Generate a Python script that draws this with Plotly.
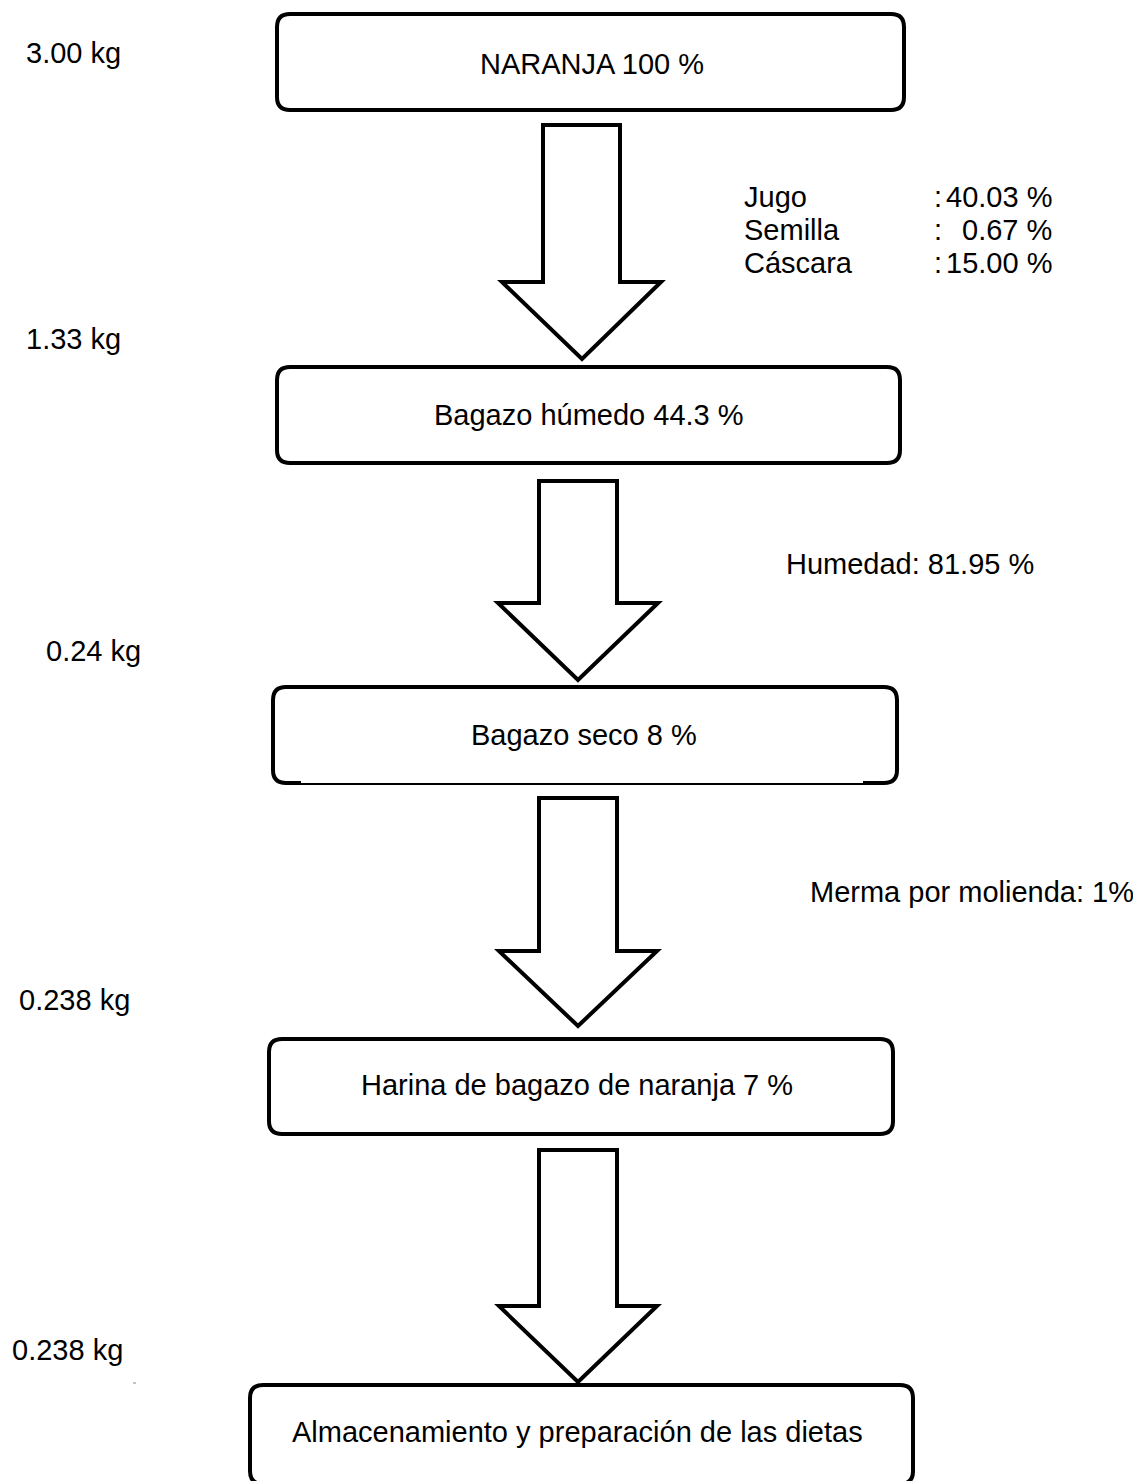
import plotly.graph_objects as go

# ---------------- data (text content) ----------------
step_labels = [
    "NARANJA 100 %",
    "Bagazo húmedo 44.3 %",
    "Bagazo seco 8 %",
    "Harina de bagazo de naranja 7 %",
    "Almacenamiento y preparación de las dietas",
]
mass_labels = ["3.00 kg", "1.33 kg", "0.24 kg", "0.238 kg", "0.238 kg"]
component_names = ["Jugo", "Semilla", "Cáscara"]
component_values = ["40.03 %", "0.67 %", "15.00 %"]
loss_notes = ["Humedad: 81.95 %", "Merma por molienda: 1%"]

# ---------------- layout geometry (pixels of the 1141x1481 page) ----------------
W, H = 1141, 1481
OFF = 8  # page body margin offset, compensated in the axis ranges
box_x0 = [277, 277, 273, 269, 250]
box_x1 = [904, 900, 897, 893, 913]
box_y0 = [14, 367, 687, 1039, 1385]
box_y1 = [110, 463, 783, 1134, 1484]
text_x = [592, 589, 584, 577, 577]
text_y = [64, 415, 735, 1085, 1432]

arrow_sx0 = [543, 539, 539, 539]
arrow_sx1 = [620, 617, 617, 617]
arrow_top = [125, 481, 798, 1150]
arrow_head = [282, 603, 951, 1306]
arrow_hx0 = [502, 498, 499, 499]
arrow_hx1 = [661, 658, 657, 657]
arrow_tipx = [582, 578, 578, 578]
arrow_tipy = [359, 680, 1026, 1382]

mass_x = [24, 24, 44, 17, 10]
mass_y = [53, 339, 651, 1000, 1350]

comp_x = 742
comp_colon_x = 932
comp_val_right = 1054
comp_y = [197, 230, 263]

note_x = [784, 808]
note_y = [564, 892]

FONT = "Liberation Sans, Arial, sans-serif"
FS = 29
LW = 4
R = 13

fig = go.Figure()

shapes = []


def rounded_path(x0, x1, y0, y1, r):
    return (f"M {x0+r},{y0} L {x1-r},{y0} Q {x1},{y0} {x1},{y0+r} "
            f"L {x1},{y1-r} Q {x1},{y1} {x1-r},{y1} L {x0+r},{y1} "
            f"Q {x0},{y1} {x0},{y1-r} L {x0},{y0+r} Q {x0},{y0} {x0+r},{y0} Z")


for i in range(len(step_labels)):
    x0, x1, y0, y1 = box_x0[i], box_x1[i], box_y0[i], box_y1[i]
    if i == 2:
        # box with a thinner middle segment on its bottom edge
        a, b = 301, 863
        p = (f"M {a},{y1} L {x0+R},{y1} Q {x0},{y1} {x0},{y1-R} "
             f"L {x0},{y0+R} Q {x0},{y0} {x0+R},{y0} L {x1-R},{y0} "
             f"Q {x1},{y0} {x1},{y0+R} L {x1},{y1-R} Q {x1},{y1} {x1-R},{y1} L {b},{y1}")
        shapes.append(dict(type="path", path=p, xref="x", yref="y",
                           line=dict(color="black", width=LW), fillcolor="rgba(0,0,0,0)",
                           layer="above"))
        shapes.append(dict(type="line", x0=a, x1=b, y0=y1 + 1, y1=y1 + 1, xref="x", yref="y",
                           line=dict(color="black", width=2), layer="above"))
    else:
        shapes.append(dict(type="path", path=rounded_path(x0, x1, y0, y1, R),
                           xref="x", yref="y", line=dict(color="black", width=LW),
                           fillcolor="white", layer="above"))

for i in range(len(arrow_top)):
    p = (f"M {arrow_sx0[i]},{arrow_top[i]} L {arrow_sx1[i]},{arrow_top[i]} "
         f"L {arrow_sx1[i]},{arrow_head[i]} L {arrow_hx1[i]},{arrow_head[i]} "
         f"L {arrow_tipx[i]},{arrow_tipy[i]} L {arrow_hx0[i]},{arrow_head[i]} "
         f"L {arrow_sx0[i]},{arrow_head[i]} Z")
    shapes.append(dict(type="path", path=p, xref="x", yref="y",
                       line=dict(color="black", width=LW), fillcolor="white", layer="above"))

# small stray mark near the last mass label
shapes.append(dict(type="line", x0=133, x1=136, y0=1383, y1=1383, xref="x", yref="y",
                   line=dict(color="#888888", width=1), layer="above"))

annotations = []
for i, t in enumerate(step_labels):
    annotations.append(dict(x=text_x[i], y=text_y[i], text=t, showarrow=False,
                            xanchor="center", yanchor="middle",
                            font=dict(family=FONT, size=FS, color="black")))
for i, t in enumerate(mass_labels):
    annotations.append(dict(x=mass_x[i], y=mass_y[i], text=t, showarrow=False,
                            xanchor="left", yanchor="middle",
                            font=dict(family=FONT, size=FS, color="black")))
for i, t in enumerate(component_names):
    annotations.append(dict(x=comp_x, y=comp_y[i], text=t, showarrow=False,
                            xanchor="left", yanchor="middle",
                            font=dict(family=FONT, size=FS, color="black")))
    annotations.append(dict(x=comp_colon_x, y=comp_y[i], text=":", showarrow=False,
                            xanchor="left", yanchor="middle",
                            font=dict(family=FONT, size=FS, color="black")))
    annotations.append(dict(x=comp_val_right, y=comp_y[i], text=component_values[i],
                            showarrow=False, xanchor="right", yanchor="middle",
                            font=dict(family=FONT, size=FS, color="black")))
for i, t in enumerate(loss_notes):
    annotations.append(dict(x=note_x[i], y=note_y[i], text=t, showarrow=False,
                            xanchor="left", yanchor="middle",
                            font=dict(family=FONT, size=FS, color="black")))

fig.update_layout(
    width=W, height=H,
    margin=dict(l=0, r=0, t=0, b=0),
    paper_bgcolor="white", plot_bgcolor="white",
    xaxis=dict(range=[OFF, W + OFF], visible=False, fixedrange=True),
    yaxis=dict(range=[H + OFF, OFF], visible=False, fixedrange=True),
    shapes=shapes, annotations=annotations,
    showlegend=False,
)

fig.write_html("out.html", config={"displayModeBar": False})
